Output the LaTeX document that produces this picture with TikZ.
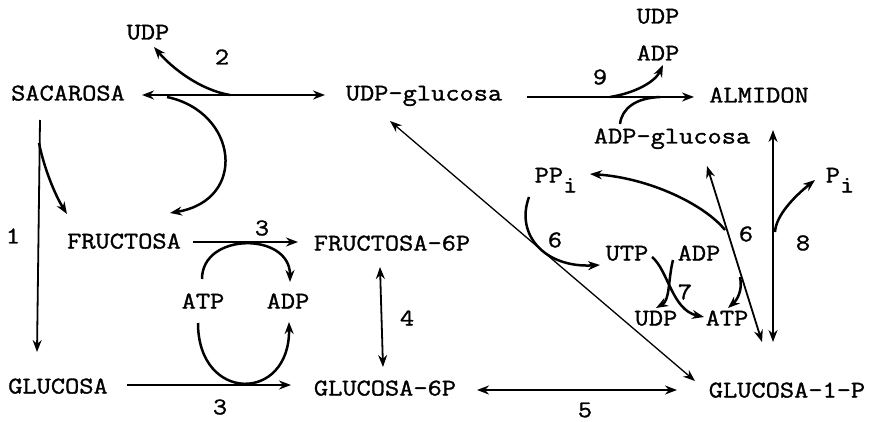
\documentclass[tikz,border=0pt]{standalone}
\usepackage{fontspec}
\newfontfamily\tw{Latin Modern Mono}[FakeStretch=1.15,FakeBold=1.3]
\usetikzlibrary{arrows.meta,calc}
\tikzset{
    chem/.style={font=\tw\fontsize{24}{28}\selectfont, inner sep=0pt, text height=15pt, text depth=0pt},
    num/.style={font=\tw\fontsize{24}{28}\selectfont, inner sep=0pt},
    arr/.style={-{Stealth[length=12pt,width=9pt]}, line width=1.8pt},
    dbl/.style={{Stealth[length=12pt,width=9pt]}-{Stealth[length=12pt,width=9pt]}, line width=1.8pt},
    curvarr/.style={-{Stealth[length=12pt,width=9pt]}, line width=2.5pt},
    plain/.style={line width=2.5pt},
}
\begin{document}
\begin{tikzpicture}[x=1pt,y=-1pt]
\useasboundingbox (0,0) rectangle (872,422);
% compounds
\node[chem] (udpA) at (148,32) {UDP};
\node[chem] (sac) at (68,93) {SACAROSA};
\node[chem] (udpg) at (424,93) {UDP-glucosa};
\node[chem] (alm) at (759,95) {ALMIDON};
\node[chem] (udpT) at (658,16) {UDP};
\node[chem] (adpT) at (658,53) {ADP};
\node[chem] (adpg) at (672,136) {ADP-glucosa};
\node[chem] (ppi) at (556,175) {PP\raisebox{-10pt}{i}};
\node[chem] (pi) at (840,175) {P\raisebox{-10pt}{i}};
\node[chem] (fru) at (124,241) {FRUCTOSA};
\node[chem] (fru6p) at (392,243) {FRUCTOSA-6P};
\node[chem] (atpL) at (203,301) {ATP};
\node[chem] (adpL) at (288,301) {ADP};
\node[chem] (utp) at (627,253) {UTP};
\node[chem] (adpR) at (699,253) {ADP};
\node[chem] (udpB) at (656,318) {UDP};
\node[chem] (atpB) at (727,318) {ATP};
\node[chem] (glu) at (58,386) {GLUCOSA};
\node[chem] (glu6p) at (385,388) {GLUCOSA-6P};
\node[chem] (glu1p) at (787,390) {GLUCOSA-1-P};

% enzyme numbers
\node[num] (n1) at (13,236) {1};
\node[num] (n2) at (222,57) {2};
\node[num] (n3a) at (262,228) {3};
\node[num] (n3b) at (220,407) {3};
\node[num] (n4) at (407,318) {4};
\node[num] (n5) at (585,410) {5};
\node[num] (n6a) at (555,240) {6};
\node[num] (n6b) at (746,234) {6};
\node[num] (n7) at (685,292) {7};
\node[num] (n8) at (803,243) {8};
\node[num] (n9) at (600,77) {9};

% branch points
\coordinate (j2) at (230,95);
\coordinate (j3) at ($(sac)+(99,4)$);
\coordinate (j1) at (39,143);
\coordinate (j9a) at (610,97);
\coordinate (j8) at (775,232);
\coordinate (j6a) at (725,230);
\coordinate (j6b) at (740,277);

% reaction 2
\draw[dbl] ($(sac)+(74,2)$) -- ($(udpg)+(-99,2)$);
\draw[curvarr] (j2) .. controls (200,90) and (172,68) .. ($(udpA)+(6,15)$);
\draw[curvarr] (j3) .. controls (238,112) and (248,200) .. ($(fru)+(46,-28)$);
% reaction 1
\draw[arr] ($(sac)+(-28,27)$) -- ($(glu)+(-21,-34)$);
\draw[curvarr] (j1) .. controls (44,168) and (55,195) .. ($(fru)+(-57,-27)$);
% reaction 3
\draw[arr] ($(fru)+(69,1)$) -- ($(fru6p)+(-94,-1)$);
\draw[curvarr] ($(atpL)+(-1,-22)$) .. controls (202,232) and (290,232) .. ($(adpL)+(2,-19)$);
\draw[arr] ($(glu)+(69,-1)$) -- ($(glu6p)+(-94,-3)$);
\draw[curvarr] ($(atpL)+(-5,22)$) .. controls (198,403) and (290,403) .. ($(adpL)+(1,21)$);
% reactions 4 and 5
\draw[dbl] ($(fru6p)+(-12,24)$) -- ($(glu6p)+(-2,-21)$);
\draw[dbl] ($(glu6p)+(92,2)$) -- ($(glu1p)+(-110,0)$);
\draw[dbl, line width=1.3pt] ($(udpg)+(-34,28)$) -- ($(glu1p)+(-92,-9)$);
% reaction 9
\draw[arr] ($(udpg)+(103,4)$) -- ($(alm)+(-65,2)$);
\draw[curvarr] (j9a) .. controls (635,93) and (655,82) .. ($(adpT)+(5,12)$);
\draw[plain] ($(adpg)+(-52,-12)$) .. controls (622,108) and (636,98) .. (660,97);
% reaction 8
\draw[dbl] ($(alm)+(14,35)$) -- ($(glu1p)+(-14,-48)$);
\draw[curvarr] (j8) .. controls (776,215) and (795,196) .. ($(pi)+(-25,5)$);
% reaction 6
\draw[dbl] ($(adpg)+(35,30)$) -- ($(glu1p)+(-25,-48)$);
\draw[curvarr] (j6a) .. controls (705,205) and (650,178) .. ($(ppi)+(34,-1)$);
\draw[curvarr] (j6b) .. controls (743,290) and (737,300) .. ($(atpB)+(1,-10)$);
\draw[curvarr] ($(ppi)+(-27,22)$) .. controls (515,235) and (545,268) .. ($(utp)+(-27,12)$);
% reaction 7
\draw[curvarr] ($(utp)+(25,4)$) .. controls (668,270) and (672,310) .. ($(atpB)+(-23,-1)$);
\draw[curvarr] ($(adpR)+(-26,7)$) .. controls (668,280) and (670,300) .. ($(udpB)+(0,-10)$);
\end{tikzpicture}
\end{document}
